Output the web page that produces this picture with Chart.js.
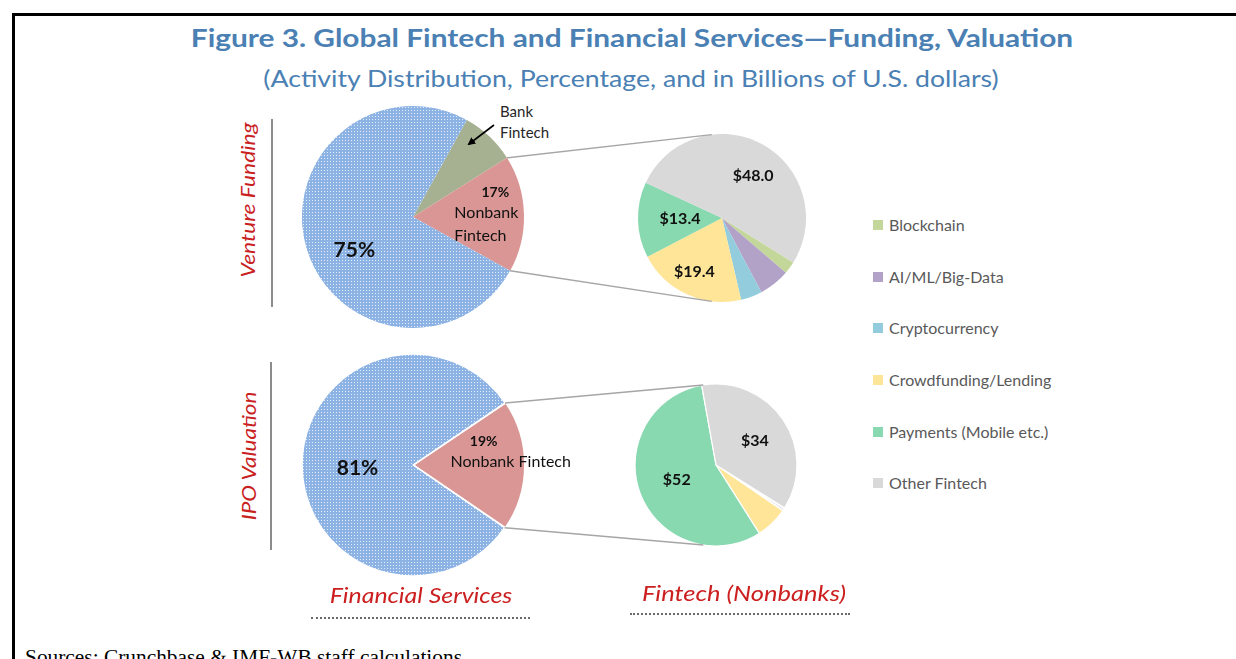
<!DOCTYPE html>
<html><head><meta charset="utf-8">
<script src="https://cdn.jsdelivr.net/npm/chart.js@4"></script>
<style>
html,body{margin:0;padding:0;background:#fff;}
#page{position:relative;width:1236px;height:659px;overflow:hidden;background:#fff;font-family:Lato,'Open Sans',sans-serif;}
.t{position:absolute;white-space:nowrap;line-height:1;}
canvas.pie{position:absolute;}
.leg{position:absolute;left:873px;width:10px;height:10px;}
</style></head><body><div id="page">
<div style="position:absolute;left:12px;top:13px;width:1224px;height:3px;background:#000"></div>
<div style="position:absolute;left:12px;top:13px;width:3px;height:660px;background:#000"></div>

<div class="t" id="title" style="font-size:25px;font-weight:700;color:#4a80b3">Figure 3. Global Fintech and Financial Services—Funding, Valuation</div>
<div class="t" id="subtitle" style="font-size:23px;color:#4a80b3">(Activity Distribution, Percentage, and in Billions of U.S. dollars)</div>

<div class="t" id="vlab1" style="font-size:20px;font-style:italic;color:#c9211e">Venture Funding</div>
<div class="t" id="vlab2" style="font-size:20px;font-style:italic;color:#c9211e">IPO Valuation</div>
<div style="position:absolute;left:271px;top:119px;width:2px;height:188px;background:#8c8c8c"></div>
<div style="position:absolute;left:270px;top:362px;width:2px;height:188px;background:#8c8c8c"></div>

<div class="t" id="bank1" style="font-size:15px;color:#262626;left:500px;top:104px">Bank</div>
<div class="t" id="bank2" style="font-size:15px;color:#262626;left:500px;top:125px">Fintech</div>

<canvas class="pie" id="c1" width="320" height="240" style="left:293px;top:97px"></canvas>
<canvas class="pie" id="c2" width="180" height="180" style="left:632px;top:128px"></canvas>
<canvas class="pie" id="c3" width="320" height="240" style="left:293px;top:345px"></canvas>
<canvas class="pie" id="c4" width="180" height="180" style="left:626px;top:375px"></canvas>

<div id="legend"></div>

<div class="t" id="blab1" style="font-size:22px;font-style:italic;color:#cc1f1f">Financial Services</div>
<div class="t" id="blab2" style="font-size:22px;font-style:italic;color:#cc1f1f">Fintech (Nonbanks)</div>
<div style="position:absolute;left:311px;top:617px;width:219px;height:0;border-top:2px dotted #6a6a6a"></div>
<div style="position:absolute;left:630px;top:613px;width:220px;height:0;border-top:2px dotted #6a6a6a"></div>

<div class="t" id="sources" style="font-family:'Liberation Serif','Times New Roman',serif;font-size:20px;color:#000">Sources: Crunchbase &amp; IMF-WB staff calculations</div>

<svg id="overlay" width="1236" height="659" style="position:absolute;left:0;top:0;pointer-events:none">
  <defs><marker id="ah" markerWidth="8" markerHeight="8" refX="6" refY="4" orient="auto" markerUnits="userSpaceOnUse"><path d="M0,0 L8,4 L0,8 z" fill="#000"/></marker></defs>
</svg>
</div>
<script>
// ---------- data ----------
const fsCategories = ['Bank Fintech', 'Nonbank Fintech', 'Financial Services'];
const ventureShares = [8, 17, 75];
const ipoCategories = ['Nonbank Fintech', 'Financial Services'];
const ipoShares = [19, 81];
const fintechCategories = ['Blockchain', 'AI/ML/Big-Data', 'Cryptocurrency', 'Crowdfunding/Lending', 'Payments (Mobile etc.)', 'Other Fintech'];
const ventureFintech = [2.2, 5.5, 3.8, 19.4, 13.4, 48.0];
const ipoFintech = [0.2, 0.3, 0.1, 6, 52, 34];

// ---------- styles ----------
const fintechColors = ['#c4d79b', '#b3a2c7', '#93cddd', '#fee598', '#88d8b0', '#d9d9d9'];
function bluePattern() {
  const c = document.createElement('canvas'); c.width = 3; c.height = 3;
  const x = c.getContext('2d');
  x.fillStyle = '#8db2e4'; x.fillRect(0, 0, 3, 3);
  x.fillStyle = '#e3ecf9'; x.fillRect(1, 1, 1, 1);
  return x.createPattern(c, 'repeat');
}
const blue = bluePattern();

const labelPlugin = {
  id: 'sliceLabels',
  afterDatasetsDraw(chart, args, opts) {
    const items = opts.items || [];
    const ctx = chart.ctx;
    const arcs = chart.getDatasetMeta(0).data;
    ctx.save();
    ctx.textAlign = 'center'; ctx.textBaseline = 'middle';
    items.forEach(s => {
      const a = arcs[s.index];
      const mid = (a.startAngle + a.endAngle) / 2;
      const r = a.outerRadius * s.frac;
      const x = a.x + Math.cos(mid) * r, y = a.y + Math.sin(mid) * r;
      s.lines.forEach(l => {
        ctx.font = l.font; ctx.fillStyle = l.color || '#111';
        ctx.fillText(l.text, x + (l.dx || 0), y + (l.dy || 0));
      });
    });
    ctx.restore();
  }
};

function makePie(id, labels, data, colors, rotation, radius, ds, items, padRight) {
  return new Chart(document.getElementById(id), {
    type: 'pie',
    data: { labels, datasets: [Object.assign({ data, backgroundColor: colors, rotation, radius, borderColor: '#fff' }, ds)] },
    options: {
      responsive: false, animation: false, events: [],
      layout: { padding: { left: 0, top: 0, bottom: 0, right: padRight || 0 } },
      plugins: { legend: { display: false }, tooltip: { enabled: false }, sliceLabels: { items } }
    },
    plugins: [labelPlugin]
  });
}
const pct = v => v + '%';
const usd1 = v => '$' + v.toFixed(1);
const usd0 = v => '$' + v.toFixed(0);
const F = "Lato, 'Open Sans', sans-serif";

const ch1 = makePie('c1', fsCategories, ventureShares, ['#a6b191', '#d99694', blue], 29, 111, { borderWidth: 0 }, [
  { index: 2, frac: 0.55, lines: [{ text: pct(ventureShares[2]), font: 'bold 21px ' + F, dy: 16 }] },
  { index: 1, frac: 0.67, lines: [
    { text: pct(ventureShares[1]), font: 'bold 14px ' + F, dx: 8, dy: -22 },
    { text: 'Nonbank', font: '16px ' + F, dx: -1, dy: -2 },
    { text: 'Fintech', font: '16px ' + F, dx: -7, dy: 21 }] }
], 80);
const ch2 = makePie('c2', fintechCategories, ventureFintech, fintechColors, 122, 84, { borderWidth: 0 }, [
  { index: 5, frac: 0.63, lines: [{ text: usd1(ventureFintech[5]), font: 'bold 16px ' + F, dx: 6, dy: 4 }] },
  { index: 4, frac: 0.5, lines: [{ text: usd1(ventureFintech[4]), font: 'bold 16px ' + F }] },
  { index: 3, frac: 0.7, lines: [{ text: usd1(ventureFintech[3]), font: 'bold 16px ' + F, dx: -3 }] }
]);
const ch3 = makePie('c3', ipoCategories, ipoShares, ['#d99694', blue], 56, 111, { borderWidth: 1.5, offset: [3, 0] }, [
  { index: 1, frac: 0.5, lines: [{ text: pct(ipoShares[1]), font: 'bold 21px ' + F, dy: 3 }] },
  { index: 0, frac: 0.7, lines: [
    { text: pct(ipoShares[0]), font: 'bold 14px ' + F, dx: -7, dy: -24 },
    { text: 'Nonbank Fintech', font: '16px ' + F, dx: 20, dy: -3 }] }
], 80);
const ch4 = makePie('c4', fintechCategories, ipoFintech, fintechColors, 122, 81, { borderWidth: 1.2 }, [
  { index: 5, frac: 0.58, lines: [{ text: usd0(ipoFintech[5]), font: 'bold 16px ' + F, dy: 2 }] },
  { index: 4, frac: 0.52, lines: [{ text: usd0(ipoFintech[4]), font: 'bold 16px ' + F }] }
]);

// ---------- legend ----------
const legRowsY = [225, 277, 328, 380, 432, 483];
const legend = document.getElementById('legend');
fintechCategories.forEach((c, i) => {
  const sq = document.createElement('div');
  sq.className = 'leg'; sq.style.top = (legRowsY[i] - 5) + 'px'; sq.style.background = fintechColors[i];
  legend.appendChild(sq);
  const t = document.createElement('div');
  t.className = 't'; t.textContent = c;
  t.style.cssText += 'font-size:16px;color:#595959;left:889px;top:' + (legRowsY[i] - 8) + 'px';
  legend.appendChild(t);
});

// ---------- text placement ----------
function place(id, cx, cy, w, rot) {
  const el = document.getElementById(id);
  const nw = el.offsetWidth;
  const s = w ? w / nw : 1;
  el.style.left = cx + 'px'; el.style.top = cy + 'px';
  el.style.transform = 'translate(-50%,-50%) rotate(' + (rot || 0) + 'deg) scaleX(' + s + ')';
}
place('title', 632, 37, 882);
place('subtitle', 630.5, 78, 735);
place('vlab1', 247, 199.5, 155, -90);
place('vlab2', 248, 455.5, 129, -90);
place('blab1', 421, 595, 182);
place('blab2', 744, 593, 204);
const src = document.getElementById('sources');
src.style.left = '25px'; src.style.top = '647px';
src.style.transformOrigin = '0 0';
src.style.transform = 'scaleX(' + (437 / src.offsetWidth) + ')';

// ---------- connectors ----------
const svg = document.getElementById('overlay');
function line(x1, y1, x2, y2, col, w, marker) {
  const l = document.createElementNS('http://www.w3.org/2000/svg', 'line');
  l.setAttribute('x1', x1); l.setAttribute('y1', y1); l.setAttribute('x2', x2); l.setAttribute('y2', y2);
  l.setAttribute('stroke', col); l.setAttribute('stroke-width', w);
  if (marker) l.setAttribute('marker-end', 'url(#' + marker + ')');
  svg.appendChild(l);
}
function connect(leftChart, idx, rightChart, degOff) {
  const lc = leftChart.canvas, rc = rightChart.canvas;
  const a = leftChart.getDatasetMeta(0).data[idx];
  const b = rightChart.getDatasetMeta(0).data[0];
  const lx = lc.offsetLeft + a.x, ly = lc.offsetTop + a.y;
  const rx = rc.offsetLeft + b.x, ry = rc.offsetTop + b.y, rr = b.outerRadius;
  const t1 = (-90 - degOff) * Math.PI / 180, t2 = (90 + degOff) * Math.PI / 180;
  line(lx + Math.cos(a.startAngle) * a.outerRadius, ly + Math.sin(a.startAngle) * a.outerRadius,
       rx + Math.cos(t1) * rr, ry + Math.sin(t1) * rr, '#a6a6a6', 1.5);
  line(lx + Math.cos(a.endAngle) * a.outerRadius, ly + Math.sin(a.endAngle) * a.outerRadius,
       rx + Math.cos(t2) * rr, ry + Math.sin(t2) * rr, '#a6a6a6', 1.5);
}
connect(ch1, 1, ch2, 7);
connect(ch3, 0, ch4, 9);
line(494, 125, 469, 144, '#000', 1.6, 'ah');
</script>
</body></html>
